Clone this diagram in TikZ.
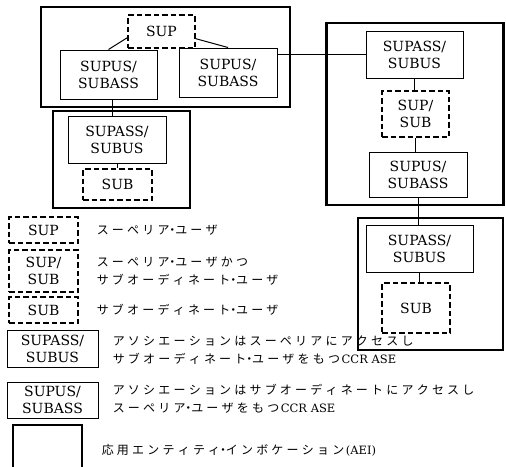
\documentclass[tikz,border=0pt]{standalone}
\usepackage{fontspec}
\setmainfont{DejaVu Serif}
\newfontfamily\jpfont{Noto Sans CJK JP}
\usetikzlibrary{calc}
\def\jp#1{{\jpfont\jploop#1\relax}}
\def\jploop#1{\ifx#1\relax\else\jpchar{#1}\expandafter\jploop\fi}
\def\jpchar#1{\ifx#1・\makebox[2.5pt]{#1}\else\makebox[15.2pt]{#1}\fi}
\begin{document}
\begin{tikzpicture}[x=1pt,y=-1pt,
 aei/.style={draw, line width=2.4pt, inner sep=0pt},
 ubox/.style={draw, line width=1pt, inner sep=0pt, align=center, font=\fontsize{14}{17}\selectfont},
 dbox/.style={ubox, line width=1.3pt, dash pattern=on 5.5pt off 3pt},
 conn/.style={line width=1pt},
 lt/.style={anchor=west, inner sep=0pt, align=left, font=\fontsize{12}{18}\selectfont},
 lat/.style={font=\fontsize{11.5}{18}\selectfont}]
\clip (0,0) rectangle (506,466);
\fill[white] (0,0) rectangle (506,466);
% application entity invocations
\node[aei, minimum width=249pt, minimum height=100pt] (aei1) at (165.5,57) {};
\node[aei, minimum width=137pt, minimum height=97pt] (aei2) at (121.5,159.5) {};
\node[aei, minimum width=177pt, minimum height=182pt] (aei3) at (415,114) {};
\node[aei, minimum width=145pt, minimum height=132pt] (aei4) at (430.5,284) {};
% top left AEI
\node[dbox, minimum width=67pt, minimum height=33pt] (sup) at (161.5,31.5) {SUP};
\node[ubox, minimum width=97pt, minimum height=49pt] (lsupus) at (108.5,74.5) {SUPUS/\\SUBASS};
\node[ubox, minimum width=98pt, minimum height=49pt] (rsupus) at (228,72.5) {SUPUS/\\SUBASS};
% lower left AEI
\node[ubox, minimum width=98pt, minimum height=47pt] (lsupass) at (117,139.5) {SUPASS/\\SUBUS};
\node[dbox, minimum width=69pt, minimum height=31pt] (lsub) at (117.5,184.5) {SUB};
% right AEI
\node[ubox, minimum width=97pt, minimum height=47pt] (rsupass) at (414.5,54.5) {SUPASS/\\SUBUS};
\node[dbox, minimum width=67pt, minimum height=46pt] (rsupsub) at (415.5,114) {SUP/\\SUB};
\node[ubox, minimum width=98pt, minimum height=45pt] (rsupus2) at (418,174.5) {SUPUS/\\SUBASS};
% lower right AEI
\node[ubox, minimum width=107pt, minimum height=47pt] (lrsupass) at (419.5,248.5) {SUPASS/\\SUBUS};
\node[dbox, minimum width=68pt, minimum height=50pt] (lrsub) at (416,308) {SUB};
% connectors
\draw[conn] ($(sup.south west)+(0,-11)$) -- (lsupus.north);
\draw[conn] ($(sup.south east)+(0,-10)$) -- (rsupus.north);
\draw[conn] (rsupus.east |- rsupass.west) -- (rsupass.west);
\coordinate (c1) at ($(lsupus.south)+(4,0)$);
\draw[conn] (c1) -- (c1 |- lsupass.north);
\draw[conn] (lsupass.south) -- (lsupass.south |- lsub.north);
\draw[conn] (rsupass.south) -- (rsupass.south |- rsupsub.north);
\draw[conn] (rsupsub.south) -- (rsupsub.south |- rsupus2.north);
\draw[conn] (rsupus2.south) -- (rsupus2.south |- lrsupass.north);
\draw[conn] (lrsupass.south) -- (lrsupass.south |- lrsub.north);
% legend
\node[dbox, minimum width=69pt, minimum height=26pt] (l1) at (43.5,230) {SUP};
\node[dbox, minimum width=69pt, minimum height=42pt] (l2) at (43.5,271) {SUP/\\SUB};
\node[dbox, minimum width=69pt, minimum height=26pt] (l3) at (43.5,310) {SUB};
\node[ubox, minimum width=91pt, minimum height=37pt] (l4) at (52.5,348.5) {SUPASS/\\SUBUS};
\node[ubox, minimum width=91pt, minimum height=36pt] (l5) at (52.5,400) {SUPUS/\\SUBASS};
\node[aei, minimum width=69pt, minimum height=50pt] (l6) at (47.5,450) {};
\node[lt] (t1) at (95,230) {\jp{スーペリア・ユーザ}};
\node[lt] (t2) at (95,271) {\jp{スーペリア・ユーザかつ}\\\jp{サブオーディネート・ユーザ}};
\node[lt] (t3) at (95,310) {\jp{サブオーディネート・ユーザ}};
\node[lt] (t4) at (111,350) {\jp{アソシエーションはスーペリアにアクセスし}\\\jp{サブオーディネート・ユーザをもつ}{\fontsize{11.5}{18}\selectfont CCR ASE}};
\node[lt] (t5) at (111,399) {\jp{アソシエーションはサブオーディネートにアクセスし}\\\jp{スーペリア・ユーザをもつ}{\fontsize{11.5}{18}\selectfont CCR ASE}};
\node[lt] (t6) at (100,450) {\jp{応用エンティティ・インボケーション}{\fontsize{11.5}{18}\selectfont (AEI)}};
\end{tikzpicture}
\end{document}
